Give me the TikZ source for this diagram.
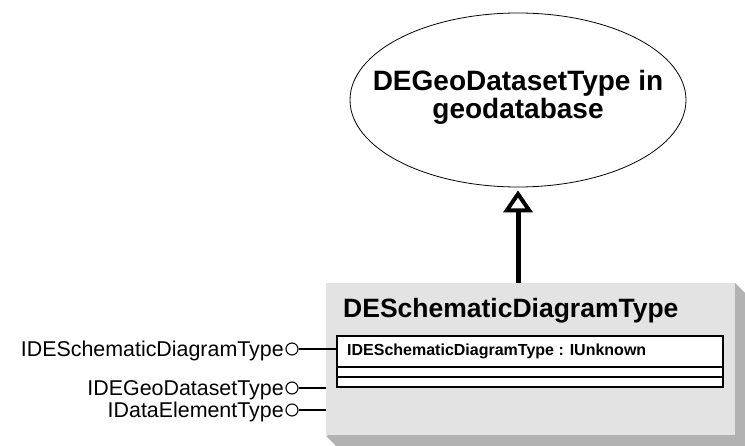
\documentclass[tikz,border=0pt]{standalone}
\usepackage{fontspec}
\setmainfont{Liberation Sans}
\usetikzlibrary{arrows.meta,shapes.geometric}
\definecolor{boxgray}{HTML}{E3E3E3}
\definecolor{shadowgray}{HTML}{B2B2B2}
\tikzset{
  lollipop/.style={circle,draw,line width=1.1pt,minimum size=12pt,inner sep=0pt,fill=white},
  iflabel/.style={anchor=base east,inner sep=0pt,font=\fontsize{21.4}{24}\selectfont},
  ifline/.style={line width=1.1pt},
  rowline/.style={line width=1.1pt},
  inherit/.style={line width=5pt,-{Triangle[open,length=22pt,width=29pt,line width=4pt]},shorten >=3pt}
}
\begin{document}
\begin{tikzpicture}[x=1pt,y=-1pt]
\useasboundingbox (0,0) rectangle (745,446);
% class box with shadow
\fill[shadowgray] (735,283) -- (745,293) -- (745,446) -- (336,446) -- (326,436) -- cycle;
\fill[boxgray] (326,283) rectangle (735,435);
\node[anchor=base west,inner sep=0pt,font=\bfseries\fontsize{26.5}{30}\selectfont] (title) at (343,318) {DESchematicDiagramType};
% interface compartment
\draw[rowline,fill=white] (337,336) rectangle (723,387);
\draw[rowline] (337,367) -- (723,367);
\draw[rowline] (337,377) -- (723,377);
\node[anchor=base west,inner sep=0pt,font=\bfseries\fontsize{16}{19}\selectfont] (row) at (347,356) {IDESchematicDiagramType : IUnknown};
% ellipse
\node[ellipse,draw,line width=0.8pt,minimum width=336pt,minimum height=174pt,inner sep=0pt] (geo) at (518,100) {};
\node[align=center,inner sep=0pt,font=\bfseries\fontsize{28}{28}\selectfont] (geotext) at (518,97) {DEGeoDatasetType in\\geodatabase};
% inheritance arrow
\coordinate (boxtop) at (518,283);
\draw[inherit] (boxtop) -- (geo.south);
% lollipops
\node[lollipop] (c1) at (292,349) {};
\node[lollipop] (c2) at (292,388) {};
\node[lollipop] (c3) at (292,410) {};
\coordinate (e1) at (337,349);
\coordinate (e2) at (326,388);
\coordinate (e3) at (326,410);
\draw[ifline] (c1.east) -- (e1);
\draw[ifline] (c2.east) -- (e2);
\draw[ifline] (c3.east) -- (e3);
\node[iflabel] (l1) at ([xshift=-1.5pt,yshift=-7.5pt]c1.west) {IDESchematicDiagramType};
\node[iflabel] (l2) at ([xshift=-1.5pt,yshift=-7.5pt]c2.west) {IDEGeoDatasetType};
\node[iflabel] (l3) at ([xshift=-1.5pt,yshift=-7.5pt]c3.west) {IDataElementType};
\end{tikzpicture}
\end{document}
